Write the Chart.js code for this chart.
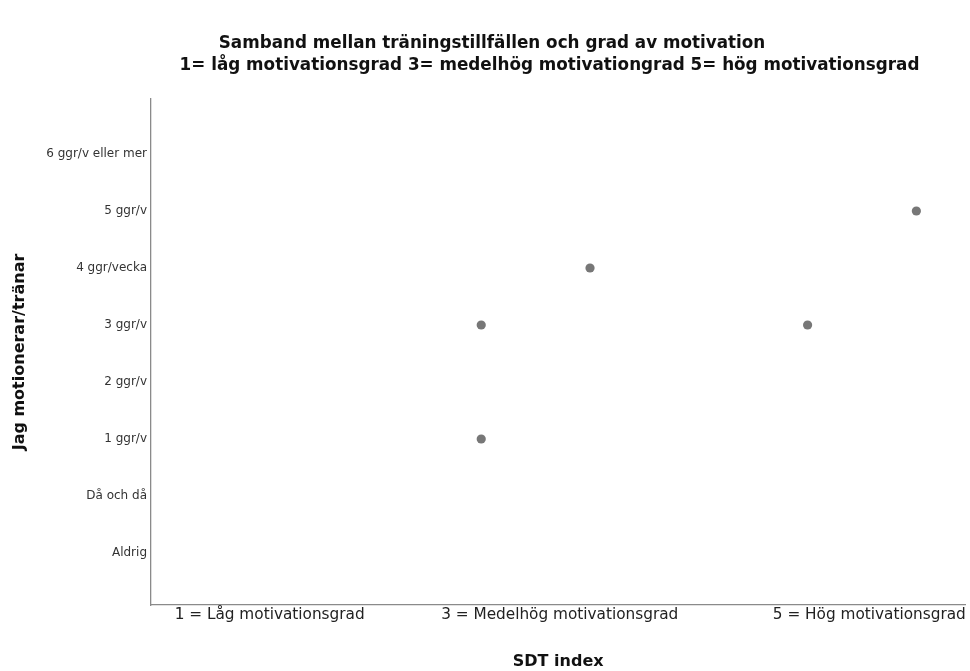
<!DOCTYPE html>
<html><head><meta charset="utf-8">
<script src="https://cdn.jsdelivr.net/npm/chart.js@4.4.0/dist/chart.umd.min.js"></script>
<style>body{margin:0;background:#fff}</style>
</head><body>
<canvas id="chartScatter" width="970" height="671"></canvas>
<script>
// y categories, bottom to top
var yLabels = ['Aldrig', 'Då och då', '1 ggr/v', '2 ggr/v', '3 ggr/v', '4 ggr/vecka', '5 ggr/v', '6 ggr/v eller mer'];
// x tick labels at SDT index 1, 3, 5
var xTickValues = [1, 3, 5];
var xLabels = ['1 = Låg motivationsgrad', '3 = Medelhög motivationsgrad', '5 = Hög motivationsgrad'];
// observations
var sdtIndex = [2.5, 2.5, 3.25, 4.75, 5.5];
var traning = ['3 ggr/v', '1 ggr/v', '4 ggr/vecka', '3 ggr/v', '5 ggr/v'];

var titleText = 'Samband mellan träningstillfällen och grad av motivation';
var subtitleText = '1= låg motivationsgrad 3= medelhög motivationgrad 5= hög motivationsgrad';

var FONT = '"DejaVu Sans", Verdana, sans-serif';

window.onload = function(){
  drawScatter();
}

var titlePlugin = {
  id: 'spssTitles',
  afterDraw: function(chart){
    var ctx = chart.ctx;
    ctx.save();
    ctx.fillStyle = '#111';
    ctx.textAlign = 'center';
    ctx.textBaseline = 'middle';
    ctx.font = 'bold 16.8px ' + FONT;
    ctx.fillText(titleText, 492, 44);
    ctx.fillText(subtitleText, 549.5, 66);
    ctx.restore();
  }
};

let chart1;
function drawScatter(){
  var ctx = document.getElementById('chartScatter').getContext('2d');
  if (chart1) {
    chart1.destroy();
  }
  var points = [];
  for (let i = 0; i < sdtIndex.length; i++) {
    points.push({x: sdtIndex[i], y: yLabels.indexOf(traning[i])});
  }
  chart1 = new Chart(ctx, {
    type: 'scatter',
    data: {
      datasets: [{
        data: points,
        backgroundColor: '#777777',
        borderWidth: 0,
        pointRadius: 4.6,
        pointHoverRadius: 4.6
      }]
    },
    plugins: [titlePlugin],
    options: {
      responsive: false,
      animation: false,
      devicePixelRatio: 1,
      layout: {padding: {top: 99, right: 2, left: 0, bottom: 0}},
      plugins: {legend: {display: false}, tooltip: {enabled: false}},
      scales: {
        x: {
          type: 'linear',
          min: 0.2234,
          max: 5.838,
          grid: {display: false, drawTicks: false},
          border: {display: true, color: '#8a8a8a', width: 1.3},
          afterBuildTicks: function(scale){
            scale.ticks = xTickValues.map(function(v){ return {value: v}; });
          },
          afterFit: function(scale){ scale.height = 66; },
          ticks: {
            autoSkip: false,
            maxRotation: 0,
            padding: 1,
            labelOffset: 6,
            color: '#222',
            font: {family: FONT, size: 15.3},
            callback: function(v){
              var s = xLabels[xTickValues.indexOf(v)];
              // SPSS pulls the last label inside the frame
              if (v === 5) s = '        ' + s;
              return s;
            }
          },
          title: {
            display: true,
            text: 'SDT index',
            color: '#111',
            font: {family: FONT, size: 16, weight: 'bold'},
            padding: {top: 0, bottom: 0}
          }
        },
        y: {
          type: 'linear',
          min: -0.912,
          max: 7.965,
          grid: {display: false, drawTicks: false},
          border: {display: true, color: '#8a8a8a', width: 1.3},
          afterBuildTicks: function(scale){
            scale.ticks = yLabels.map(function(l, i){ return {value: i}; });
          },
          afterFit: function(scale){ scale.width = 151; },
          ticks: {
            autoSkip: false,
            padding: 4,
            color: '#333',
            font: {family: FONT, size: 12},
            callback: function(v){ return yLabels[v]; }
          },
          title: {
            display: true,
            text: 'Jag motionerar/tränar',
            color: '#111',
            font: {family: FONT, size: 16, weight: 'bold'},
            padding: {top: 10.4, bottom: 0}
          }
        }
      }
    }
  });
}
</script>
</body></html>
